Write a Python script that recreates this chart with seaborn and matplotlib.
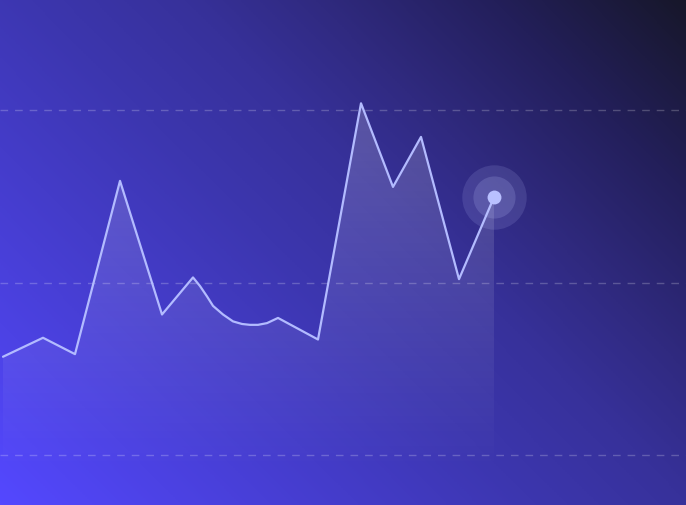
import numpy as np
import matplotlib
matplotlib.use("Agg")
import matplotlib.pyplot as plt
from matplotlib.colors import LinearSegmentedColormap
import seaborn as sns

# series (x = time position, y = value)
xs = [3, 43, 75, 120, 162, 193, 200, 207, 213, 223, 233, 242, 250, 258, 267, 278,
      318, 361, 393, 421, 459, 494]
ys = [31.4, 33.6, 31.7, 51.8, 36.3, 40.6, 39.6, 38.4, 37.3, 36.3, 35.5, 35.2, 35.1, 35.1,
      35.3, 35.9, 33.4, 60.8, 51.1, 56.9, 40.4, 49.9]
grid_levels = [20, 40, 60]

X_MIN, X_MAX = 0, 686
Y_MIN, Y_MAX = 14.2, 72.9

LINE = "#b3bbff"

sns.set_style("white")
fig = plt.figure(figsize=(6.86, 5.06), dpi=100)
ax = fig.add_axes([0, 0, 1, 1])
ax.set_xlim(X_MIN, X_MAX)
ax.set_ylim(Y_MIN, Y_MAX)
ax.set_axis_off()

# 45 degree background gradient, bright bottom-left -> dark top-right
bg = LinearSegmentedColormap.from_list(
    "bg", [(0.0, "#5448ff"), (0.45, "#3c36ae"), (0.58, "#37319a"),
           (0.69, "#302a80"), (0.84, "#231f5a"), (1.0, "#17172a")])
u = np.linspace(0, 686, 400)
v = np.linspace(506, 0, 300)
U, V = np.meshgrid(u, v)
T = np.clip((U + V) / (686 + 506), 0, 1)
ax.imshow(bg(T), extent=[X_MIN, X_MAX, Y_MIN, Y_MAX],
          aspect="auto", zorder=0, interpolation="bilinear")

# dashed grid
for g in grid_levels:
    ax.axhline(g, color="white", alpha=0.22, lw=1, dashes=(5.5, 5), zorder=1)

# area fill with vertical fade
poly = ax.fill_between(xs, ys, Y_MIN, color="none", lw=0)
fade = np.zeros((300, 2, 4))
fade[..., :3] = 1.0
yy = np.linspace(Y_MAX, Y_MIN, 300)
a = np.clip((yy - 17.5) / (62 - 17.5), 0, 1) * 0.2
fade[..., 3] = a[:, None]
img = ax.imshow(fade, extent=[X_MIN, X_MAX, Y_MIN, Y_MAX], aspect="auto", zorder=2,
                interpolation="bilinear")
img.set_clip_path(poly.get_paths()[0], transform=ax.transData)

# the line
sns.lineplot(x=xs, y=ys, ax=ax, color=LINE, lw=1.6, sort=False, zorder=4,
             solid_joinstyle="round", solid_capstyle="round")

# highlighted last point with halo
ax.scatter([xs[-1]], [ys[-1]], s=2150, color="#c0c6ff", alpha=0.14, lw=0, zorder=5)
ax.scatter([xs[-1]], [ys[-1]], s=920, color="#c0c6ff", alpha=0.18, lw=0, zorder=5)
ax.scatter([xs[-1]], [ys[-1]], s=100, color="#b9c0ff", lw=0, zorder=6)

fig.savefig("out.png", dpi=100)
